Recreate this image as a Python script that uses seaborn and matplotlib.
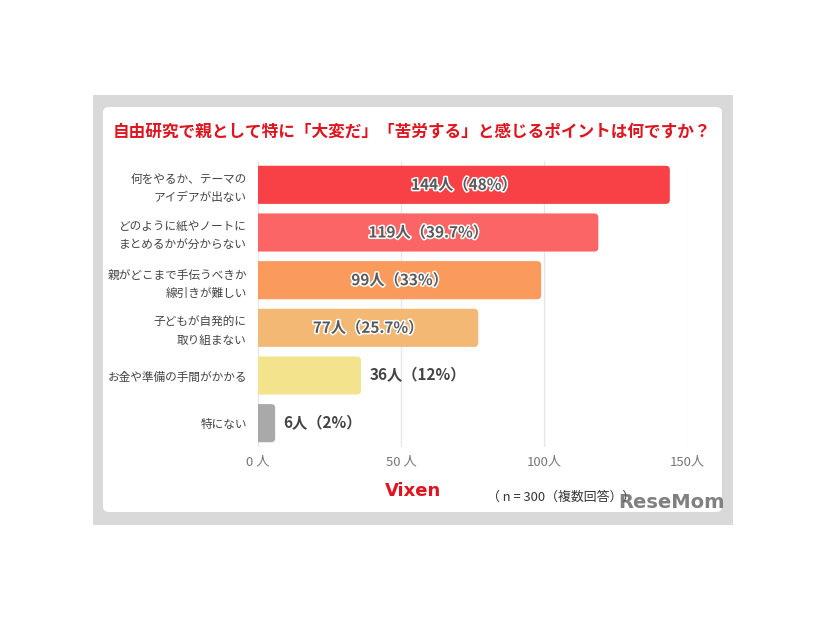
import matplotlib
matplotlib.use("Agg")
import matplotlib.pyplot as plt
import matplotlib.patheffects as pe
from matplotlib.patches import Rectangle, FancyBboxPatch
import seaborn as sns
import pandas as pd

# データ
categories = [
    "何をやるか、テーマの\nアイデアが出ない",
    "どのように紙やノートに\nまとめるかが分からない",
    "親がどこまで手伝うべきか\n線引きが難しい",
    "子どもが自発的に\n取り組まない",
    "お金や準備の手間がかかる",
    "特にない",
]
counts = [144, 119, 99, 77, 36, 6]
percents = ["48%", "39.7%", "33%", "25.7%", "12%", "2%"]
bar_colors = ["#f84146", "#fc6565", "#fb9a5d", "#f3b873", "#f4e38d", "#a9a9a9"]
xticks = [0, 50, 100, 150]
xtick_labels = ["0 人", "50 人", "100人", "150人"]

title = "自由研究で親として特に「大変だ」「苦労する」と感じるポイントは何ですか？"
note = "（ n = 300（複数回答））"

sns.set_theme(style="white")
plt.rcParams["font.family"] = ["Noto Sans CJK JP", "DejaVu Sans"]

W, H = 826, 620
fig = plt.figure(figsize=(W / 100, H / 100), dpi=100)
fig.patch.set_facecolor("white")

# 背景のグレー枠と白いカード
fig.patches.append(Rectangle((93 / W, 1 - 525 / H), 640 / W, 430 / H,
                             transform=fig.transFigure, facecolor="#d9d9d9",
                             edgecolor="none", zorder=-2))
fig.patches.append(FancyBboxPatch((103 / W, 1 - 512 / H), 619 / W, 405 / H,
                                  boxstyle="round,pad=0,rounding_size=0.008",
                                  transform=fig.transFigure, facecolor="white",
                                  edgecolor="none", zorder=-1))

fig.text(412 / W, 1 - 132 / H, title, ha="center", va="center",
         fontsize=12, fontweight="bold", color="#e0141e")

ax = fig.add_axes([258 / W, 1 - 447 / H, 429 / W, 286 / H])
ax.set_facecolor("none")

df = pd.DataFrame({"cat": categories, "n": counts})
sns.barplot(data=df, x="n", y="cat", hue="cat", palette=bar_colors,
            legend=False, width=0.8, ax=ax, saturation=1)

# 角丸のバーに置き換え
xpp = 150 / 429
ypp = 6 / 286
for p in list(ax.patches):
    x0, y0 = p.get_x(), p.get_y()
    w, h = p.get_width(), p.get_height()
    fc = p.get_facecolor()
    p.remove()
    r = 4 * xpp
    ax.add_patch(FancyBboxPatch((x0 - 3 * r, y0), w + 3 * r, h,
                                boxstyle=f"round,pad=0,rounding_size={r}",
                                mutation_aspect=ypp / xpp, facecolor=fc,
                                edgecolor="none", zorder=3))

ax.set_xlim(0, 150)
ax.set_ylim(5.5, -0.5)
ax.set_xticks(xticks)
ax.set_xticklabels(xtick_labels, fontsize=9.5, color="#777777")
ax.tick_params(axis="y", labelsize=8.4, labelcolor="#444444", length=0, pad=8)
ax.tick_params(axis="x", length=0, pad=6)
for lab in ax.get_yticklabels():
    lab.set_linespacing(1.5)
ax.set_xlabel("")
ax.set_ylabel("")
ax.xaxis.grid(True, color="#e6e6e6", linewidth=0.9, zorder=0)
ax.set_axisbelow(True)
for s in ax.spines.values():
    s.set_visible(False)

for i, (c, pc) in enumerate(zip(counts, percents)):
    label = f"{c}人（{pc}）"
    if c > 60:
        ax.text(c / 2, i, label, ha="center", va="center", fontsize=11,
                fontweight="bold", color="#5a5a5a", zorder=5,
                path_effects=[pe.withStroke(linewidth=2.2, foreground="white")])
    else:
        ax.text(c + 3, i, label, ha="left", va="center", fontsize=11,
                fontweight="bold", color="#444444", zorder=5)

fig.text(413 / W, 1 - 491 / H, "Vixen", ha="center", va="center",
         fontsize=13, fontweight="bold", color="#e0141e",
         family=["DejaVu Sans"])
fig.text(487 / W, 1 - 497 / H, note, ha="left", va="center",
         fontsize=9.3, color="#333333")
fig.text(671 / W, 1 - 503 / H, "ReseMom", ha="center", va="center",
         fontsize=14, fontweight="bold", color="#555555", alpha=0.75,
         family=["DejaVu Sans"])

fig.savefig("out.png", dpi=100)
